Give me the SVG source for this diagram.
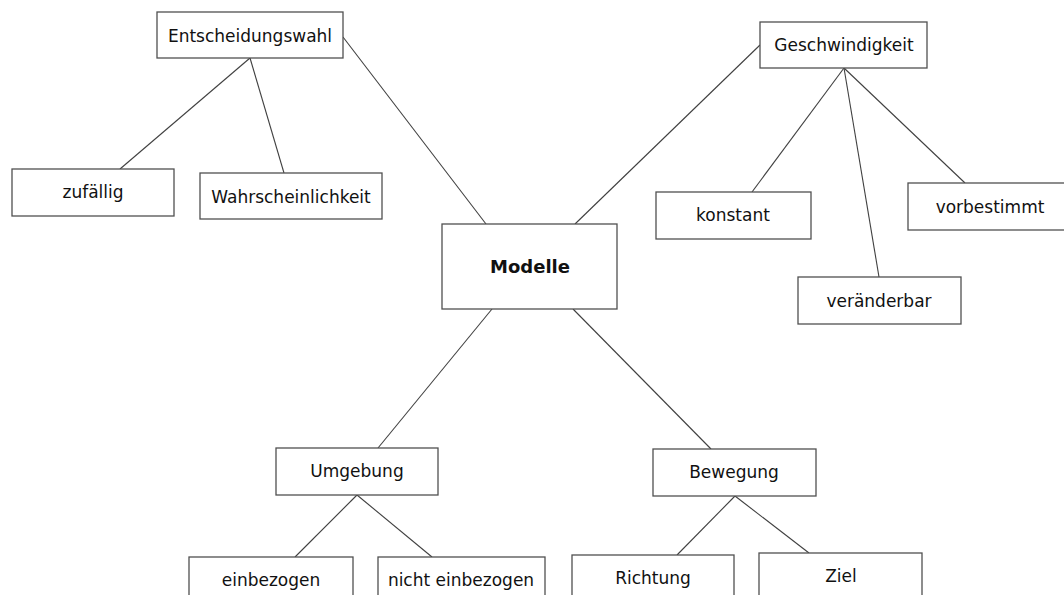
<svg xmlns="http://www.w3.org/2000/svg" width="1064" height="595" viewBox="0 0 1064 595">
  <style>
    .box { fill: #ffffff; stroke: #505050; stroke-width: 1.3; }
    .lbl { font-family: "DejaVu Sans", sans-serif; font-size: 17px; fill: #111111; text-anchor: middle; }
    .main { font-weight: bold; font-size: 18px; }
    .edge { stroke: #404040; stroke-width: 1.1; fill: none; }
  </style>
  <rect width="1064" height="595" fill="#ffffff"/>

  <!-- connectors -->
  <g id="connectors">
    <line class="edge" x1="250" y1="58" x2="120" y2="169"/>
    <line class="edge" x1="250" y1="58" x2="284" y2="173"/>
    <line class="edge" x1="343" y1="37" x2="486" y2="224"/>
    <line class="edge" x1="760" y1="45" x2="575" y2="224"/>
    <line class="edge" x1="844" y1="68" x2="752" y2="192"/>
    <line class="edge" x1="844" y1="68" x2="879" y2="277"/>
    <line class="edge" x1="844" y1="68" x2="965" y2="183"/>
    <line class="edge" x1="492" y1="309" x2="378" y2="448"/>
    <line class="edge" x1="573" y1="309" x2="711" y2="449"/>
    <line class="edge" x1="357" y1="495" x2="295" y2="557"/>
    <line class="edge" x1="357" y1="495" x2="432" y2="557"/>
    <line class="edge" x1="735" y1="496" x2="677" y2="555"/>
    <line class="edge" x1="735" y1="496" x2="809" y2="553"/>
  </g>

  <!-- nodes -->
  <g id="entscheidungswahl">
    <rect class="box" x="157" y="12" width="186" height="46"/>
    <text class="lbl" x="250" y="42">Entscheidungswahl</text>
  </g>
  <g id="zufaellig">
    <rect class="box" x="12" y="169" width="162" height="47"/>
    <text class="lbl" x="93" y="198">zufällig</text>
  </g>
  <g id="wahrscheinlichkeit">
    <rect class="box" x="200" y="173" width="182" height="46"/>
    <text class="lbl" x="291" y="203">Wahrscheinlichkeit</text>
  </g>
  <g id="modelle">
    <rect class="box" x="442" y="224" width="175" height="85"/>
    <text class="lbl main" x="530" y="273">Modelle</text>
  </g>
  <g id="geschwindigkeit">
    <rect class="box" x="760" y="22" width="167" height="46"/>
    <text class="lbl" x="844" y="51">Geschwindigkeit</text>
  </g>
  <g id="konstant">
    <rect class="box" x="656" y="192" width="155" height="47"/>
    <text class="lbl" x="733" y="221">konstant</text>
  </g>
  <g id="vorbestimmt">
    <rect class="box" x="908" y="183" width="162" height="47"/>
    <text class="lbl" x="990" y="213">vorbestimmt</text>
  </g>
  <g id="veraenderbar">
    <rect class="box" x="798" y="277" width="163" height="47"/>
    <text class="lbl" x="879" y="307">veränderbar</text>
  </g>
  <g id="umgebung">
    <rect class="box" x="276" y="448" width="162" height="47"/>
    <text class="lbl" x="357" y="477">Umgebung</text>
  </g>
  <g id="bewegung">
    <rect class="box" x="653" y="449" width="163" height="47"/>
    <text class="lbl" x="734" y="478">Bewegung</text>
  </g>
  <g id="einbezogen">
    <rect class="box" x="189" y="557" width="164" height="50"/>
    <text class="lbl" x="271" y="586">einbezogen</text>
  </g>
  <g id="nicht-einbezogen">
    <rect class="box" x="378" y="557" width="167" height="50"/>
    <text class="lbl" x="461" y="586">nicht einbezogen</text>
  </g>
  <g id="richtung">
    <rect class="box" x="572" y="555" width="162" height="50"/>
    <text class="lbl" x="653" y="584">Richtung</text>
  </g>
  <g id="ziel">
    <rect class="box" x="759" y="553" width="163" height="50"/>
    <text class="lbl" x="841" y="582">Ziel</text>
  </g>
</svg>
